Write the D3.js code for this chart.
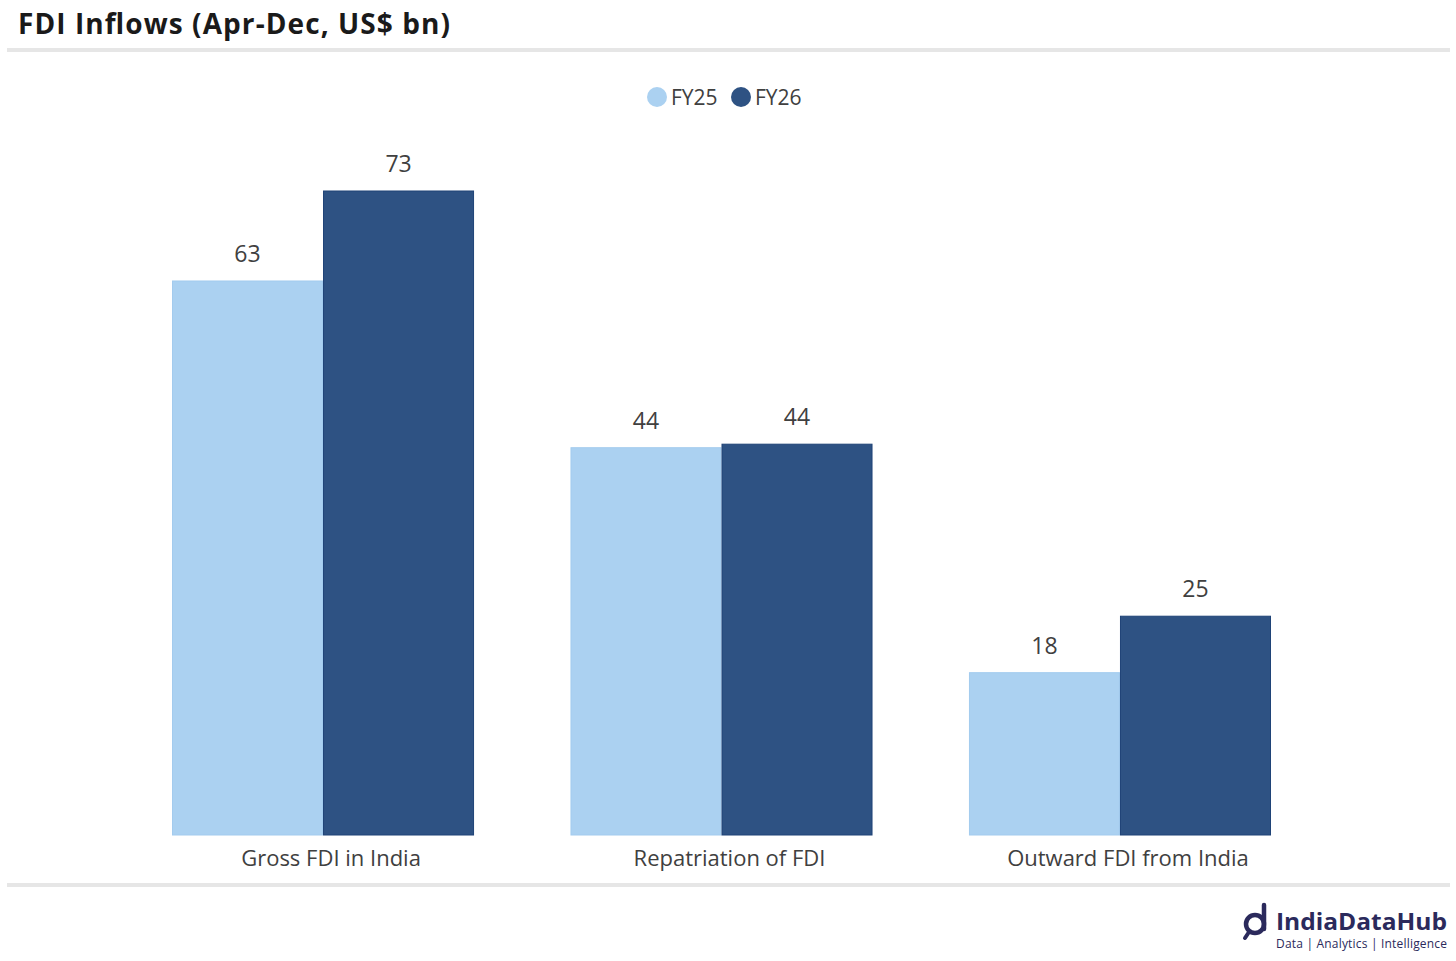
<!DOCTYPE html>
<html>
<head>
<meta charset="utf-8">
<script src="https://cdn.jsdelivr.net/npm/d3@7"></script>
<style>
  html, body { margin: 0; padding: 0; background: #fff; }
  svg { display: block; font-family: "Open Sans", "Noto Sans", sans-serif; }
</style>
</head>
<body>
<svg id="chart" width="1456" height="961"></svg>
<script>
const categories = ["Gross FDI in India", "Repatriation of FDI", "Outward FDI from India"];
const seriesNames = ["FY25", "FY26"];
const fy25 = [62.8, 43.9, 18.4];
const fy26 = [73.0, 44.3, 24.8];
const seriesColors = ["#abd1f1", "#2e5283"];
const seriesStroke = ["#a3cbee", "#1f4377"];

const svg = d3.select("#chart");

// Title
svg.append("text").attr("x", 18).attr("y", 34)
  .attr("font-size", 28).attr("font-weight", 700).attr("fill", "#1a1a1a")
  .attr("textLength", 432).attr("lengthAdjust", "spacing")
  .text("FDI Inflows (Apr-Dec, US$ bn)");

// separator lines
svg.append("rect").attr("x", 7).attr("y", 48).attr("width", 1443).attr("height", 4).attr("fill", "#e6e6e6");
svg.append("rect").attr("x", 7).attr("y", 883).attr("width", 1443).attr("height", 4).attr("fill", "#e6e6e6");

// Legend
const legend = [{x: 657, tx: 671}, {x: 741, tx: 755}];
seriesNames.forEach((s, i) => {
  svg.append("circle").attr("cx", legend[i].x).attr("cy", 97).attr("r", 10).attr("fill", seriesColors[i]);
  svg.append("text").attr("x", legend[i].tx).attr("y", 98).attr("dy", "0.35em")
    .attr("font-size", 21).attr("fill", "#404040").text(s);
});

const baseline = 835;
const y = d3.scaleLinear().domain([0, 73]).range([baseline, 191]);
const x0 = d3.scaleBand().domain(categories).range([172, 1271]).paddingInner(0.242).paddingOuter(0);
const x1 = d3.scaleBand().domain(seriesNames).range([0, x0.bandwidth()]).padding(0);

const data = categories.map((c, i) => ({cat: c, vals: [fy25[i], fy26[i]]}));

const g = svg.append("g");
data.forEach(d => {
  d.vals.forEach((v, j) => {
    const s = seriesNames[j];
    const bx = x0(d.cat) + x1(s);
    g.append("rect")
      .attr("x", bx + 0.5).attr("y", y(v))
      .attr("width", x1.bandwidth() - 1).attr("height", baseline - y(v))
      .attr("fill", seriesColors[j]).attr("stroke", seriesStroke[j]).attr("stroke-width", 1);
    g.append("text")
      .attr("x", bx + x1.bandwidth() / 2).attr("y", y(v) - 19)
      .attr("text-anchor", "middle").attr("font-size", 23).attr("fill", "#404040")
      .text(d3.format(".0f")(v));
  });
  g.append("text")
    .attr("x", x0(d.cat) + x0.bandwidth() / 2 + 8).attr("y", 866)
    .attr("text-anchor", "middle").attr("font-size", 22).attr("fill", "#404040")
    .text(d.cat);
});

// Logo
const logo = svg.append("g");
logo.append("circle").attr("cx", 1255).attr("cy", 924).attr("r", 9).attr("fill", "none").attr("stroke", "#2b2a5c").attr("stroke-width", 4.5);
logo.append("line").attr("x1", 1264).attr("y1", 905).attr("x2", 1264).attr("y2", 929).attr("stroke", "#2b2a5c").attr("stroke-width", 4.5).attr("stroke-linecap", "round");
logo.append("line").attr("x1", 1249).attr("y1", 932).attr("x2", 1245).attr("y2", 938).attr("stroke", "#2b2a5c").attr("stroke-width", 4).attr("stroke-linecap", "round");
logo.append("text").attr("x", 1276).attr("y", 930)
  .attr("font-size", 24).attr("font-weight", 700).attr("fill", "#2b2a5c")
  .attr("textLength", 171).attr("lengthAdjust", "spacingAndGlyphs").text("IndiaDataHub");
logo.append("text").attr("x", 1276).attr("y", 948)
  .attr("font-size", 12).attr("fill", "#2b2a5c")
  .attr("textLength", 171).attr("lengthAdjust", "spacing").text("Data | Analytics | Intelligence");
</script>
</body>
</html>
